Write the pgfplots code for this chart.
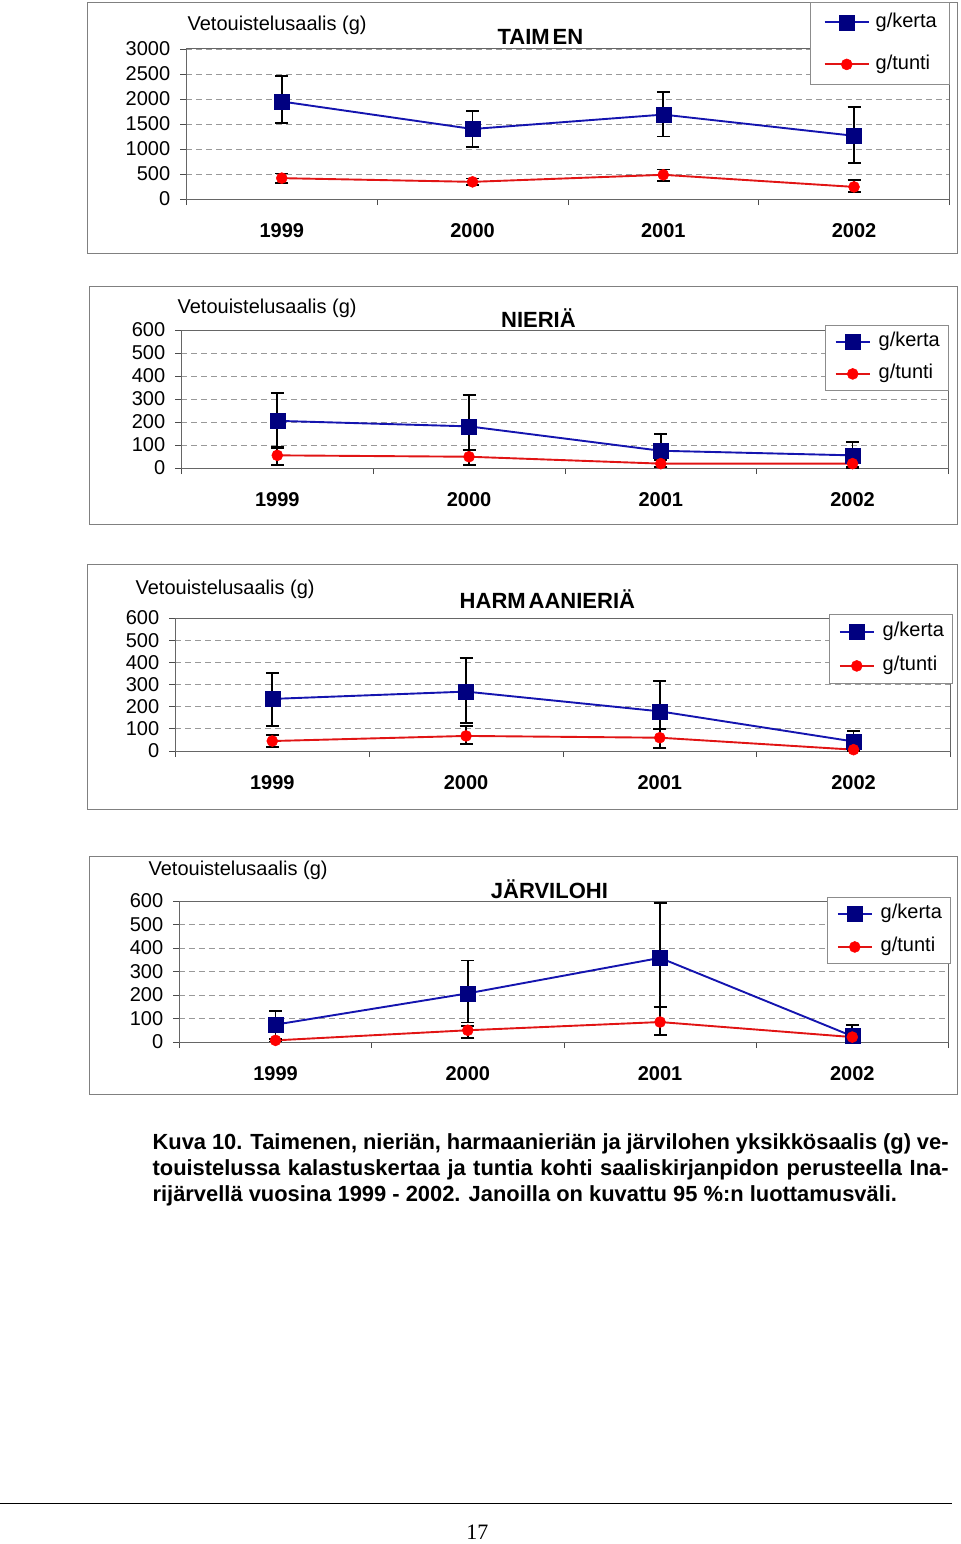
\documentclass[border=0pt]{standalone}
\usepackage{fontspec}
\setmainfont{Liberation Sans}
\newfontfamily\seriffont{Liberation Serif}
\usepackage{pgfplots}
\pgfplotsset{compat=1.18}
\definecolor{navy}{RGB}{0,0,128}
\definecolor{bline}{RGB}{20,20,175}
\definecolor{rline}{RGB}{225,20,20}
\definecolor{rmark}{RGB}{255,0,0}
\newcommand{\fs}{\fontsize{20}{24}\selectfont}
\pgfplotsset{
 panel/.style={
   scale only axis, anchor=south west, clip=false,
   xmin=0.5, xmax=4.5, ymin=0,
   xtick={1,2,3,4}, xticklabels={1999,2000,2001,2002},
   minor xtick={0.5,1.5,2.5,3.5,4.5},
   tick pos=left,
   major x tick style={draw=none},
   minor x tick style={black!70, line width=0.8pt},
   y tick style={black!70, line width=0.8pt},
   tick align=outside, major tick length=6pt, minor tick length=6pt,
   axis line style={black!60, line width=1pt},
   ymajorgrids, major grid style={black!40, line width=0.8pt, dash pattern=on 6pt off 4pt},
   /pgf/number format/assume math mode=true,
   /pgf/number format/set thousands separator={},
   yticklabel style={font=\fs, anchor=east, inner sep=0pt, xshift=-10pt},
   xticklabel style={font=\fs\bfseries, anchor=center, yshift=-26pt},
   legend cell align=left,
   legend style={draw=black!45, line width=0.8pt, fill=white, anchor=north west, font=\fs,
     nodes={inner sep=0pt, text height=14pt, text depth=4pt}, column sep=8pt,
     inner xsep=9pt, inner ysep=8pt, row sep=15pt},
   legend image code/.code={\draw[mark repeat=2,mark phase=2,##1] plot coordinates {(0pt,0pt) (17pt,0pt) (34pt,0pt)};},
 },
 kerta/.style={color=bline, line width=1.9pt, mark=square*, mark size=7.5pt,
   mark options={fill=navy, draw=navy, line width=0.5pt},
   error bars/.cd, y dir=both, y explicit, error mark=|,
   error bar style={black, line width=1.8pt},
   error mark options={black, line width=1.8pt, mark size=6.5pt}},
 tunti/.style={color=rline, line width=1.9pt, mark=*, mark size=5.5pt,
   mark options={fill=rmark, draw=rmark, line width=0.5pt},
   error bars/.cd, y dir=both, y explicit, error mark=|,
   error bar style={black, line width=1.8pt},
   error mark options={black, line width=1.8pt, mark size=6.5pt}},
}
\begin{document}
\begin{tikzpicture}[x=1pt,y=1pt]
\path (0pt,0pt) rectangle (960pt,-1544pt);
% frames
\draw[black!50, line width=0.8pt] (87pt,-2pt) rectangle (957pt,-253pt);
\draw[black!50, line width=0.8pt] (89pt,-286pt) rectangle (957pt,-524pt);
\draw[black!50, line width=0.8pt] (87pt,-564pt) rectangle (957pt,-809pt);
\draw[black!50, line width=0.8pt] (89pt,-856pt) rectangle (957pt,-1094pt);

% ---------- TAIMEN
\begin{axis}[panel, at={(186pt,-199pt)}, width=763pt, height=150pt,
  ymax=3000, ytick={0,500,...,3000},
  legend image code/.code={\draw[mark repeat=2,mark phase=2,#1] plot coordinates {(0pt,0pt) (22pt,0pt) (44pt,0pt)};},
  legend style={at={(0.8178,1.3133)}, inner xsep=13pt, inner ysep=11pt, row sep=24pt, column sep=6pt}]
\addplot[kerta] coordinates {
 (1,1950) += (0,511) -= (0,430)
 (2,1400) += (0,362) -= (0,358)
 (3,1688) += (0,457) -= (0,437)
 (4,1264) += (0,572) -= (0,538)};
\addlegendentry{g/kerta}
\addplot[tunti] coordinates {
 (1,417) += (0,94) -= (0,101)
 (2,343) += (0,67) -= (0,67)
 (3,484) += (0,108) -= (0,128)
 (4,242) += (0,141) -= (0,108)};
\addlegendentry{g/tunti}
\end{axis}
\node[anchor=west, inner sep=0pt, font=\fs] at (187pt,-25pt) {Vetouistelusaalis (g)};
\node[inner sep=0pt, font=\fontsize{22}{26}\selectfont\bfseries] at (540pt,-37pt) {TAIM\kern3pt EN};

% ---------- NIERIÄ
\begin{axis}[panel, at={(181pt,-468pt)}, width=767pt, height=138pt,
  ymax=600, ytick={0,100,...,600},
  legend style={at={(0.8396,1.0362)}, inner ysep=7.5pt, row sep=14pt}]
\addplot[kerta] coordinates {
 (1,205) += (0,120) -= (0,118)
 (2,181) += (0,137) -= (0,104)
 (3,75) += (0,72) -= (0,72)
 (4,55) += (0,58) -= (0,55)};
\addlegendentry{g/kerta}
\addplot[tunti] coordinates {
 (1,55) += (0,36) -= (0,43)
 (2,49) += (0,28) -= (0,37)
 (3,19) += (0,15) -= (0,15)
 (4,19) += (0,15) -= (0,15)};
\addlegendentry{g/tunti}
\end{axis}
\node[anchor=west, inner sep=0pt, font=\fs] at (177pt,-308pt) {Vetouistelusaalis (g)};
\node[inner sep=0pt, font=\fontsize{22}{26}\selectfont\bfseries] at (538pt,-318pt) {NIERIÄ};

% ---------- HARMAANIERIÄ
\begin{axis}[panel, at={(175pt,-751pt)}, width=775pt, height=133pt,
  ymax=600, ytick={0,100,...,600},
  legend style={at={(0.8439,1.030)}, inner ysep=8.5pt, row sep=16pt}]
\addplot[kerta] coordinates {
 (1,235) += (0,118) -= (0,122)
 (2,268) += (0,153) -= (0,140)
 (3,179) += (0,138) -= (0,79)
 (4,43) += (0,46) -= (0,43)};
\addlegendentry{g/kerta}
\addplot[tunti] coordinates {
 (1,45) += (0,29) -= (0,26)
 (2,68) += (0,45) -= (0,37)
 (3,60) += (0,40) -= (0,45)
 (4,6) += (0,5) -= (0,5)};
\addlegendentry{g/tunti}
\end{axis}
\node[anchor=west, inner sep=0pt, font=\fs] at (135pt,-589pt) {Vetouistelusaalis (g)};
\node[inner sep=0pt, font=\fontsize{22}{26}\selectfont\bfseries] at (547pt,-599pt) {HARM\kern3pt AANIERIÄ};

% ---------- JÄRVILOHI
\begin{axis}[panel, at={(179pt,-1042pt)}, width=769pt, height=141pt,
  ymax=600, ytick={0,100,...,600},
  legend style={at={(0.8427,1.028)}, inner ysep=7.5pt, row sep=15pt}]
\addplot[kerta] coordinates {
 (1,74) += (0,59) -= (0,59)
 (2,207) += (0,140) -= (0,124)
 (3,358) += (0,234) -= (0,209)
 (4,25) += (0,46) -= (0,25)};
\addlegendentry{g/kerta}
\addplot[tunti] coordinates {
 (1,7) += (0,5) -= (0,5)
 (2,50) += (0,18) -= (0,34)
 (3,85) += (0,64) -= (0,55)
 (4,21) += (0,8) -= (0,8)};
\addlegendentry{g/tunti}
\end{axis}
\node[anchor=west, inner sep=0pt, font=\fs] at (148pt,-870pt) {Vetouistelusaalis (g)};
\node[inner sep=0pt, font=\fontsize{22}{26}\selectfont\bfseries] at (549pt,-889pt) {JÄRVILOHI};

% caption
\begin{scope}[every node/.style={anchor=base west, inner sep=0pt, font=\fontsize{21.9}{26}\selectfont\bfseries}]
\node at (152pt,-1149pt) {\hbox to 796pt{Kuva 10. Taimenen, nieriän, harmaanieriän ja järvilohen yksikkösaalis (g) ve-}};
\node at (152pt,-1175pt) {\hbox to 796pt{touistelussa kalastuskertaa ja tuntia kohti saaliskirjanpidon perusteella Ina-}};
\node at (152pt,-1201pt) {rijärvellä vuosina 1999 - 2002. Janoilla on kuvattu 95 \%:n luottamusväli.};
\end{scope}
\draw[black, line width=0.8pt] (0pt,-1503pt) -- (952pt,-1503pt);
\node[inner sep=0pt, font=\fontsize{22}{26}\seriffont] at (477pt,-1532pt) {17};
\end{tikzpicture}
\end{document}
